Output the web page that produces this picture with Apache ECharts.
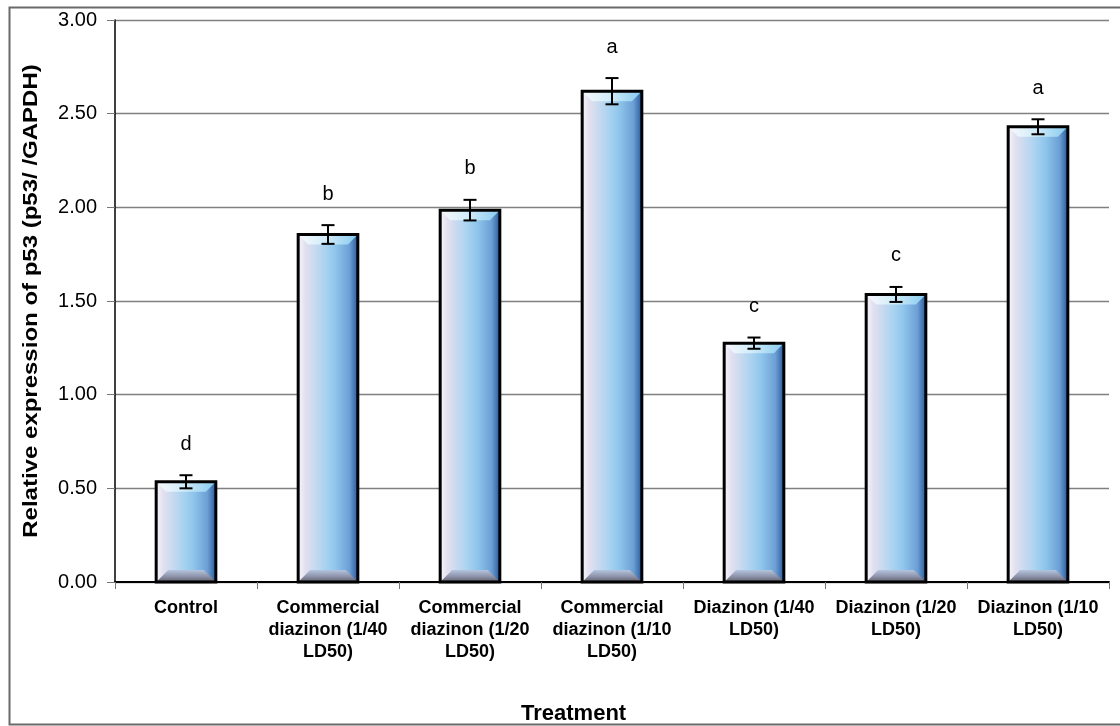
<!DOCTYPE html>
<html>
<head>
<meta charset="utf-8">
<script src="https://cdn.jsdelivr.net/npm/echarts@6/dist/echarts.min.js"></script>
<style>
html,body{margin:0;padding:0;background:#fff;}
#chart{width:1120px;height:726px;}
</style>
</head>
<body>
<div id="chart"></div>
<script>
const categories = [
  'Control',
  'Commercial\ndiazinon (1/40\nLD50)',
  'Commercial\ndiazinon (1/20\nLD50)',
  'Commercial\ndiazinon (1/10\nLD50)',
  'Diazinon (1/40\nLD50)',
  'Diazinon (1/20\nLD50)',
  'Diazinon (1/10\nLD50)'
];
const means = [0.535, 1.855, 1.985, 2.62, 1.275, 1.535, 2.43];
const errors = [0.035, 0.05, 0.055, 0.07, 0.03, 0.04, 0.04];
const letters = ['d', 'b', 'b', 'a', 'c', 'c', 'a'];
const yTitle = 'Relative expression of p53 (p53/ /GAPDH)';
const xTitle = 'Treatment';

const FONT = '"Liberation Sans", Arial, sans-serif';
const BAR_RATIO = 0.42;

const chart = echarts.init(document.getElementById('chart'));

const barGradient = new echarts.graphic.LinearGradient(0, 0, 1, 0, [
  {offset: 0, color: '#f6f4fb'},
  {offset: 0.12, color: '#e2e0ef'},
  {offset: 0.45, color: '#a9d3f1'},
  {offset: 0.62, color: '#8fc6ec'},
  {offset: 0.86, color: '#6c9fd6'},
  {offset: 1, color: '#2c5a98'}
]);

function bevelItem(params, api) {
  const i = params.dataIndex;
  const top = api.coord([i, api.value(1)]);
  const base = api.coord([i, 0]);
  const band = api.size([1, 0])[0];
  const bw = band * BAR_RATIO;
  const x0 = top[0] - bw / 2, x1 = top[0] + bw / 2;
  const yt = top[1], yb = base[1];
  const dT = 10, dB = 12;
  return {
    type: 'group',
    children: [
      {
        type: 'polygon',
        shape: {points: [[x0, yt], [x1, yt], [x1 - dT, yt + dT], [x0 + dT, yt + dT]]},
        style: {fill: new echarts.graphic.LinearGradient(0, 0, 1, 0, [
          {offset: 0, color: '#f8f9fd'},
          {offset: 0.45, color: '#d2ecf9'},
          {offset: 1, color: '#86cbf0'}
        ])}
      },
      {
        type: 'polygon',
        shape: {points: [[x0, yb], [x1, yb], [x1 - dB, yb - dB], [x0 + dB, yb - dB]]},
        style: {fill: new echarts.graphic.LinearGradient(0, 0, 0, 1, [
          {offset: 0, color: '#b4c4de'},
          {offset: 0.55, color: '#8c92a8'},
          {offset: 1, color: '#625e6e'}
        ])}
      },
      {
        type: 'rect',
        shape: {x: x0, y: yt, width: bw, height: yb - yt},
        style: {fill: 'none', stroke: '#000', lineWidth: 3}
      }
    ]
  };
}

function errItem(params, api) {
  const i = params.dataIndex;
  const m = api.value(1), e = api.value(2);
  const hi = api.coord([i, m + e]);
  const lo = api.coord([i, m - e]);
  const cap = 6.5;
  const x = hi[0];
  return {
    type: 'group',
    children: [
      {type: 'line', shape: {x1: x, y1: hi[1], x2: x, y2: lo[1]}, style: {stroke: '#000', lineWidth: 2}},
      {type: 'line', shape: {x1: x - cap, y1: hi[1], x2: x + cap, y2: hi[1]}, style: {stroke: '#000', lineWidth: 2}},
      {type: 'line', shape: {x1: x - cap, y1: lo[1], x2: x + cap, y2: lo[1]}, style: {stroke: '#000', lineWidth: 2}},
      {type: 'text', x: x, y: hi[1] - 31, style: {
        text: letters[i], fill: '#000', font: '20px ' + FONT, align: 'center', verticalAlign: 'middle'
      }}
    ]
  };
}

const option = {
  animation: false,
  backgroundColor: '#fff',
  grid: {left: 115, right: 11, top: 20, bottom: 144, containLabel: false},
  xAxis: {
    type: 'category',
    data: categories,
    axisLine: {lineStyle: {color: '#000', width: 2}},
    axisTick: {show: true, length: 7, lineStyle: {color: '#777', width: 1}, alignWithLabel: false},
    axisLabel: {
      interval: 0, color: '#000', fontFamily: FONT, fontWeight: 'bold', fontSize: 18,
      lineHeight: 22, margin: 15
    },
    splitLine: {show: false}
  },
  yAxis: {
    type: 'value',
    min: 0, max: 3, interval: 0.5,
    axisLine: {show: true, lineStyle: {color: '#000', width: 1.5}},
    axisTick: {show: true, length: 8, lineStyle: {color: '#777', width: 1}},
    axisLabel: {
      color: '#000', fontFamily: FONT, fontSize: 20, margin: 18,
      formatter: v => v.toFixed(2)
    },
    splitLine: {show: true, lineStyle: {color: '#808080', width: 1.3}}
  },
  series: [
    {
      type: 'bar',
      data: means,
      barWidth: (BAR_RATIO * 100) + '%',
      itemStyle: {color: barGradient},
      z: 2
    },
    {
      type: 'custom',
      renderItem: bevelItem,
      data: means.map((m, i) => [i, m]),
      encode: {x: 0, y: 1},
      z: 3
    },
    {
      type: 'custom',
      renderItem: errItem,
      data: means.map((m, i) => [i, m, errors[i]]),
      encode: {x: 0, y: 1},
      z: 4
    }
  ],
  graphic: [
    {
      type: 'text', x: 31, y: 301, rotation: Math.PI / 2, scaleX: 1.2, z: 10,
      style: {text: yTitle, fill: '#000', font: 'bold 20px ' + FONT, align: 'center', verticalAlign: 'middle'}
    },
    {
      type: 'text', left: 521, top: 703, z: 10,
      style: {text: xTitle, fill: '#000', font: 'bold 22px ' + FONT}
    },
    {
      type: 'rect', left: 0, top: 723, z: 11,
      shape: {width: 1120, height: 3}, style: {fill: '#fff'}
    },
    {
      type: 'rect', left: 7, top: 5, z: 12,
      shape: {width: 1120, height: 717},
      style: {fill: 'none', stroke: '#6a6a6a', lineWidth: 2}
    }
  ]
};
chart.setOption(option);
</script>
</body>
</html>
